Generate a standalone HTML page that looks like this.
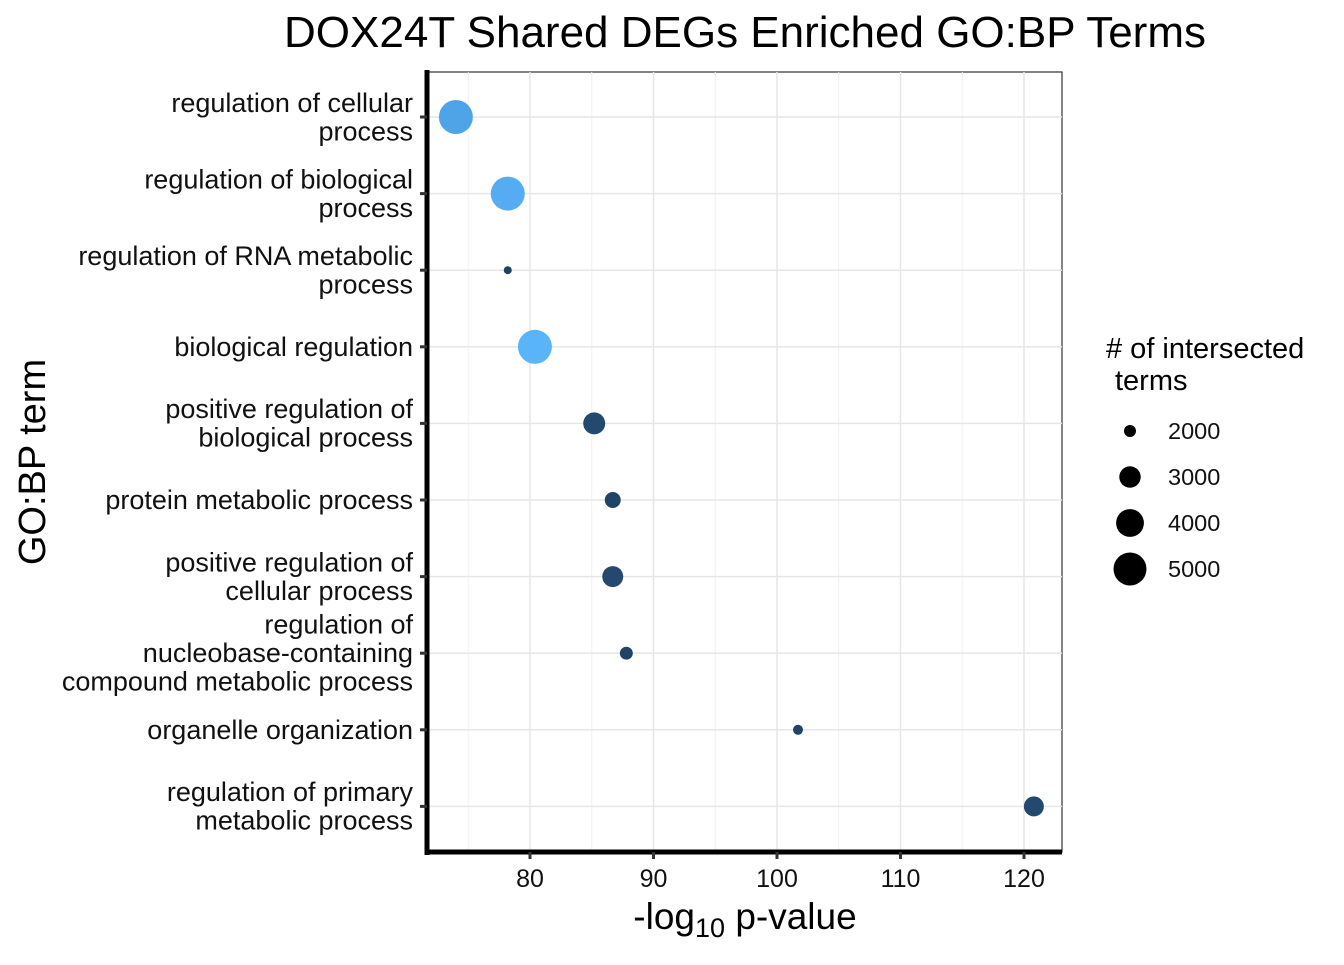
<!DOCTYPE html>
<html><head><meta charset="utf-8"><style>
body{margin:0;background:#fff;}
svg{font-family:"Liberation Sans",Arial,sans-serif;}
</style></head><body>
<svg id="chart" width="1344" height="960" viewBox="0 0 1344 960">
<text x="745" y="47" text-anchor="middle" font-size="44" fill="#000">DOX24T Shared DEGs Enriched GO:BP Terms</text>
<rect x="427" y="72" width="635" height="780" fill="#fff" stroke="#333" stroke-width="1.2"/>
<g id="grid"></g>
<g id="points"></g>
<line x1="427" y1="70" x2="427" y2="855" stroke="#000" stroke-width="5"/>
<line x1="425" y1="852" x2="1062" y2="852" stroke="#000" stroke-width="5"/>
<g id="yaxis"></g>
<g id="xaxis"></g>
<text x="745" y="929" text-anchor="middle" font-size="37">-log<tspan font-size="27" dy="8">10</tspan><tspan dy="-8"> p-value</tspan></text>
<text transform="translate(45,462) rotate(-90)" text-anchor="middle" font-size="38">GO:BP term</text>
<g>
<text x="1106" y="358" font-size="29"># of intersected</text>
<text x="1115" y="390" font-size="29">terms</text>
<g id="legend"></g>
</g>
</svg>
<script>
const terms = [["regulation of cellular","process"],["regulation of biological","process"],["regulation of RNA metabolic","process"],["biological regulation"],["positive regulation of","biological process"],["protein metabolic process"],["positive regulation of","cellular process"],["regulation of","nucleobase-containing","compound metabolic process"],["organelle organization"],["regulation of primary","metabolic process"]];
const pvals = [74.0, 78.2, 78.2, 80.4, 85.2, 86.7, 86.7, 87.8, 101.7, 120.8];
const counts = [5215, 5215, 1746, 5215, 3080, 2356, 2940, 2076, 1860, 2813];
const colors = ["#4fa4e8","#56acf2","#1e4264","#5ab4f9","#234a6e","#1f4466","#234a6e","#1f4466","#1f4466","#234a6e"];
const xTicks = [80, 90, 100, 110, 120];
const legendVals = [2000, 3000, 4000, 5000];
const NS="http://www.w3.org/2000/svg";
const x = v => 530 + (v-80)*12.35;
const y = i => 117 + i*76.6;
const r = n => Math.sqrt(Math.max(4, 36 + 0.0787*(n-2000)));
function mk(tag, attrs, parent){const e=document.createElementNS(NS,tag);for(const k in attrs)e.setAttribute(k,attrs[k]);parent.appendChild(e);return e;}
const grid=document.getElementById('grid'),pts=document.getElementById('points'),ya=document.getElementById('yaxis'),xa=document.getElementById('xaxis'),lg=document.getElementById('legend');
for(let v=75; v<=125; v+=10){ if(x(v)>427&&x(v)<1062){const l=mk('line',{x1:x(v),x2:x(v),y1:72,y2:852,stroke:'#f0f0f0','stroke-width':1},grid);

}}
xTicks.forEach(v=>{
 const l=mk('line',{x1:x(v),x2:x(v),y1:72,y2:852,stroke:'#e6e6e6','stroke-width':1.5},grid);
 
 
 const t=mk('line',{x1:x(v),x2:x(v),y1:852,y2:859,stroke:'#333','stroke-width':3},xa);
 
 
 const tx=mk('text',{x:x(v),y:887,'text-anchor':'middle','font-size':25,fill:'#111'},xa);
 tx.textContent=v;
 
 
});
terms.forEach((lines,i)=>{
 const gl=mk('line',{x1:427,x2:1062,y1:y(i),y2:y(i),stroke:'#e6e6e6','stroke-width':1.5},grid);
 
 
 const tk=mk('line',{x1:420,x2:427,y1:y(i),y2:y(i),stroke:'#333','stroke-width':3},ya);
 
 
 const n=lines.length, lh=28.5;
 const t=mk('text',{'text-anchor':'end','font-size':27,fill:'#111'},ya);
 
 
 lines.forEach((s,j)=>{const ts=mk('tspan',{x:413,y:y(i)+9+(j-(n-1)/2)*lh},t);ts.textContent=s;});
 const c=mk('circle',{cx:x(pvals[i]),cy:y(i),r:r(counts[i]),fill:colors[i]},pts);
 
 
});
legendVals.forEach((v,k)=>{
 const cy=431+k*46;
 const c=mk('circle',{cx:1130,cy:cy,r:r(v),fill:'#000'},lg);
 
 
 const t=mk('text',{x:1168,y:cy+8,'font-size':23.5,fill:'#111'},lg);
 t.textContent=v;
 
 
});
</script>
</body></html>
